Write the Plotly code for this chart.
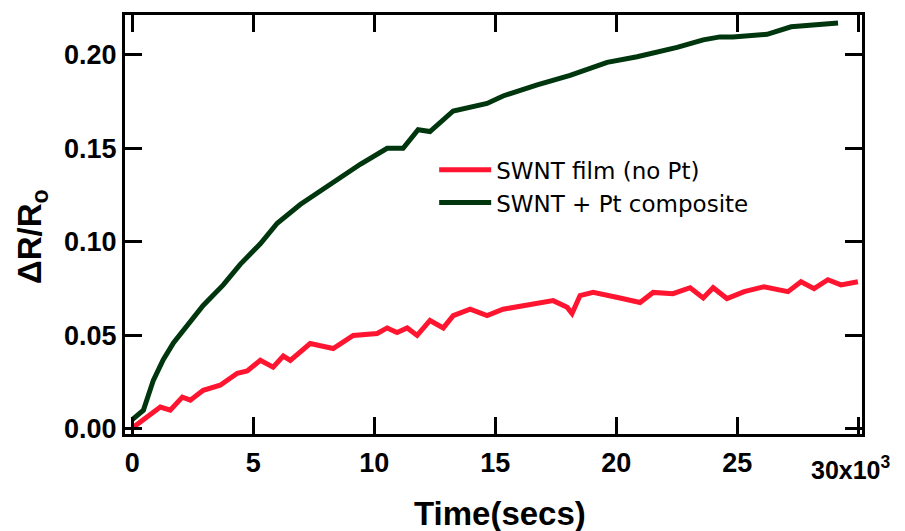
import plotly.graph_objects as go

# ---- data ----
t_pt = [0, 460, 870, 1280, 1700, 2270, 2930, 3760, 4460, 5290, 5990, 6940, 7890, 8590,
        9420, 10530, 11190, 11810, 12300, 13260, 14660, 15320, 16730, 18090, 19620,
        20860, 22510, 23590, 24280, 24820, 26230, 27220, 28330, 29160]
r_pt = [0.005, 0.010, 0.026, 0.037, 0.046, 0.055, 0.066, 0.077, 0.088, 0.099, 0.110,
        0.120, 0.128, 0.134, 0.1415, 0.150, 0.150, 0.160, 0.159, 0.170, 0.174, 0.178,
        0.184, 0.189, 0.196, 0.199, 0.204, 0.208, 0.2096, 0.2096, 0.211, 0.215, 0.2165,
        0.217]

t_film = [0, 620, 1160, 1570, 2070, 2400, 2930, 3630, 4340, 4750, 5290, 5820, 6240,
          6530, 7350, 8300, 9130, 10120, 10530, 10940, 11360, 11770, 12300, 12850,
          13260, 13960, 14660, 15320, 16310, 17390, 17970, 18170, 18500, 19040, 20150,
          20980, 21520, 22340, 23050, 23590, 24000, 24570, 25280, 26100, 27090, 27630,
          28170, 28740, 29280, 29980]
r_film = [0.0005, 0.0064, 0.0117, 0.010, 0.017, 0.0154, 0.0207, 0.0234, 0.0298, 0.031,
          0.0367, 0.033, 0.039, 0.0367, 0.0457, 0.043, 0.050, 0.051, 0.054, 0.0516,
          0.054, 0.050, 0.058, 0.054, 0.0606, 0.064, 0.0606, 0.064, 0.066, 0.0686,
          0.065, 0.0617, 0.0713, 0.073, 0.070, 0.0676, 0.073, 0.0723, 0.0755, 0.070,
          0.0755, 0.0697, 0.0734, 0.076, 0.0734, 0.0787, 0.075, 0.0798, 0.077, 0.0787]

x_ticks = [0, 5000, 10000, 15000, 20000, 25000, 30000]
x_labels = ["0", "5", "10", "15", "20", "25", ""]
y_ticks = [0.00, 0.05, 0.10, 0.15, 0.20]

RED = "#ff1530"
GREEN = "#00360e"
FONT = "Liberation Sans, Arial, sans-serif"

fig = go.Figure()
fig.add_trace(go.Scatter(x=t_film, y=r_film, mode="lines", name="SWNT film (no Pt)",
                         line=dict(color=RED, width=5)))
fig.add_trace(go.Scatter(x=t_pt, y=r_pt, mode="lines", name="SWNT + Pt composite",
                         line=dict(color=GREEN, width=5)))

axis_common = dict(showline=True, linecolor="black", linewidth=3, mirror="ticks",
                   ticks="inside", ticklen=17, tickwidth=3, tickcolor="black",
                   showgrid=False, zeroline=False,
                   tickfont=dict(family=FONT, size=27, color="black", weight="bold"))

fig.update_xaxes(range=[-300, 30150], tickvals=x_ticks, ticktext=x_labels,
                 ticklabelstandoff=3, **axis_common)
fig.update_yaxes(range=[-0.0027, 0.2213], tickvals=y_ticks, tickformat=".2f",
                 ticklabelstandoff=0, **axis_common)

fig.update_layout(
    width=905, height=531,
    margin=dict(l=125, r=43, t=13, b=97),
    paper_bgcolor="white", plot_bgcolor="white",
    showlegend=True,
    legend=dict(x=0.4195, y=0.682, xanchor="left", yanchor="top",
                bgcolor="rgba(0,0,0,0)",
                font=dict(family="DejaVu Sans", size=23, color="black"),
                itemwidth=52, tracegroupgap=0),
    annotations=[
        dict(text="30x10<sup>3</sup>", xref="paper", yref="paper",
             x=(851 - 125) / 737, y=-(468 - 434) / 421, xanchor="center", yanchor="middle",
             showarrow=False, font=dict(family=FONT, size=25, color="black", weight="bold")),
        dict(text="Time(secs)", xref="paper", yref="paper",
             x=(500 - 125) / 737, y=-(514 - 434) / 421, xanchor="center", yanchor="middle",
             showarrow=False, font=dict(family=FONT, size=33, color="black", weight="bold")),
        dict(text="ΔR/R<sub>o</sub>", xref="paper", yref="paper", textangle=-90,
             x=-(125 - 32) / 737, y=(434 - 236) / 421, xanchor="center", yanchor="middle",
             showarrow=False, font=dict(family=FONT, size=33, color="black", weight="bold")),
    ],
)

fig.write_html("out.html")
